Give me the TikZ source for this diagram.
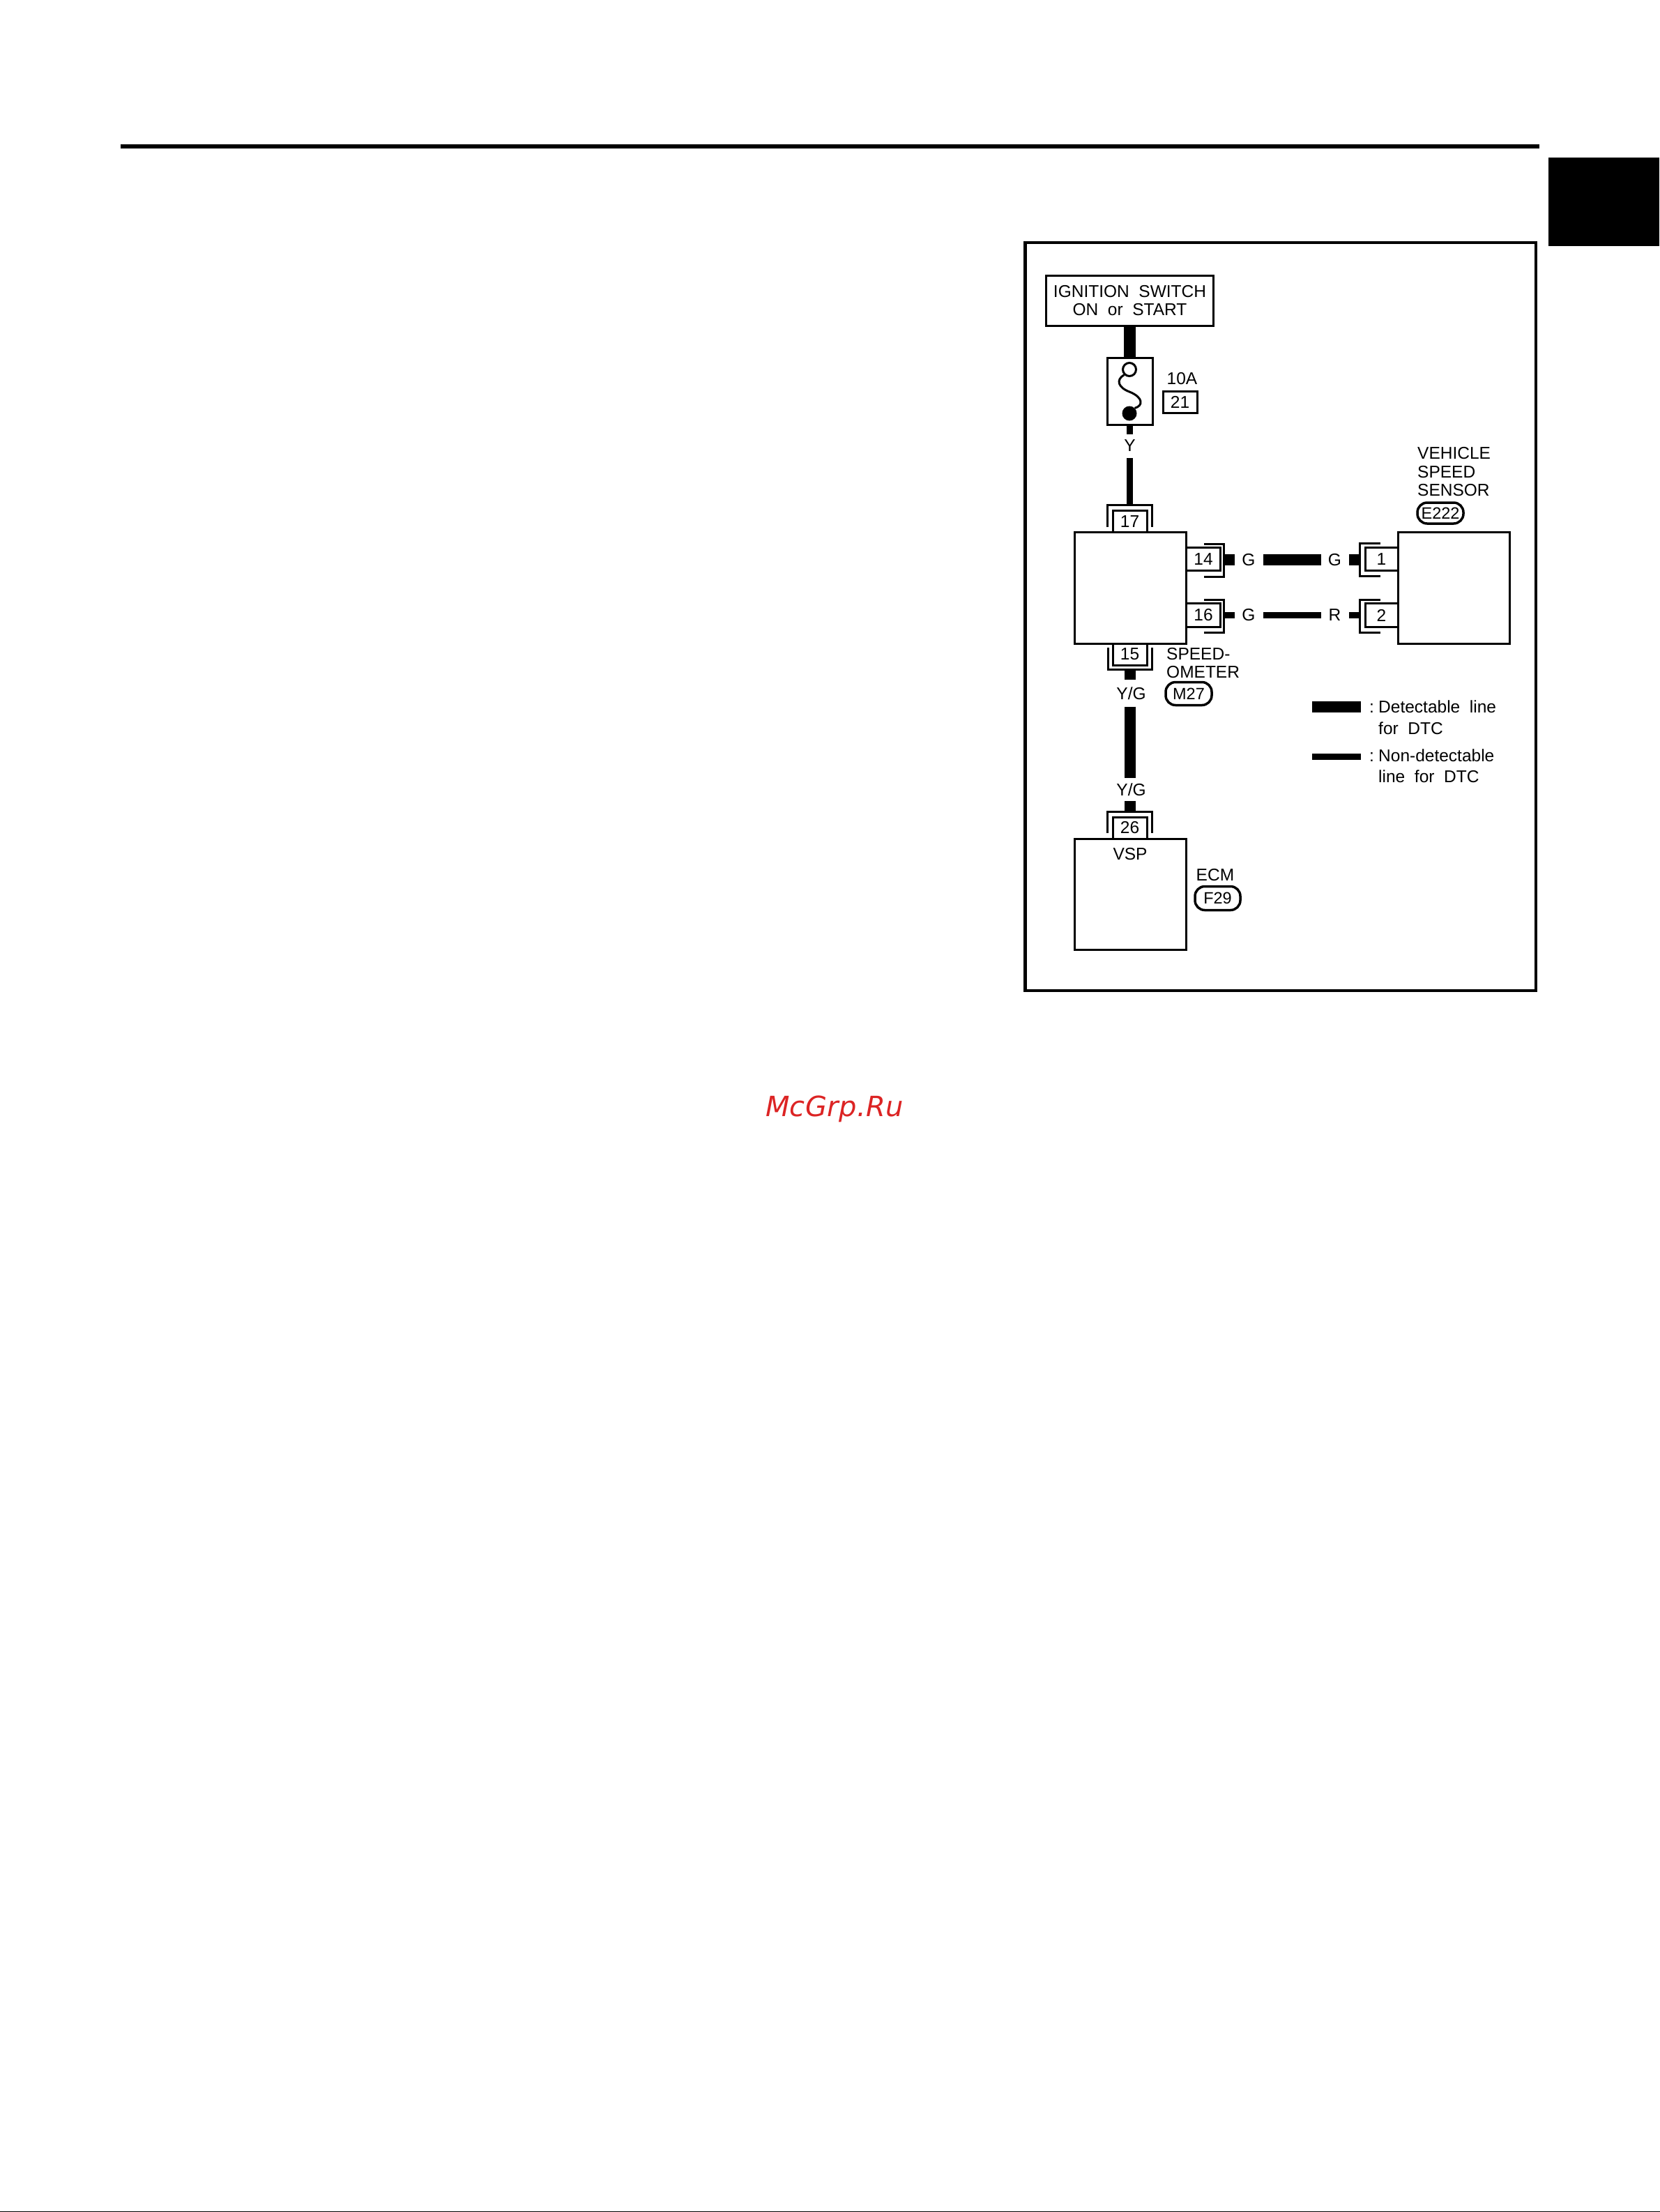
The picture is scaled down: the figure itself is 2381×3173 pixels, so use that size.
\documentclass[tikz,border=0pt]{standalone}
\usepackage{fontspec}
\setmainfont[WordSpace=2]{Liberation Sans}
\newfontfamily\markfont[LetterSpace=1]{DejaVu Sans}
\usepackage{xcolor}
\usetikzlibrary{positioning, calc}
\definecolor{MarkRed}{HTML}{DC2424}

\tikzset{
    devicebox/.style={draw, line width=3pt, inner sep=0pt, align=center},
    pinbox/.style={devicebox, minimum width=49pt, minimum height=31pt},
    hood/.style={line width=3pt},
    tag/.style={devicebox, rounded corners=14pt, line width=3.5pt, font=\fontsize{23.5}{26}\selectfont},
    wiretext/.style={inner sep=0pt, font=\fontsize{24.5}{26}\selectfont},
    sidetext/.style={wiretext, anchor=base west},
    fatwire/.style={line width=16.5pt},
    slimwire/.style={line width=9pt},
}

\begin{document}
\begin{tikzpicture}[x=1pt, y=-1pt, every node/.style={font=\fontsize{24.5}{26}\selectfont}]
    \useasboundingbox[fill=white] (0,0) rectangle (2381,3173);

    % page furniture
    \draw[line width=6pt] (173,210) -- (2208,210);
    \fill (2221,226) rectangle (2380,352.7);
    \draw[line width=1.5pt] (0,3172.3) -- (2381,3172.3);
    \draw[line width=4.5pt] (1470.5,348) rectangle (2203,1421);
    \node[inner sep=0pt, text=MarkRed, font=\markfont\itshape\fontsize{40}{44}\selectfont] (mark) at (1197,1591) {McGrp.Ru};

    % ignition switch and fuse
    \node[devicebox, minimum width=240pt, minimum height=72pt] (ignition) at (1620.5,431) {IGNITION SWITCH\\ON or START};
    \node[devicebox, minimum width=65pt, minimum height=96pt] (fuse) at (1620.5,561) {};
    \draw[fatwire] (ignition.south) -- (fuse.north);
    \node[draw, line width=3pt, fill=white, circle, inner sep=0pt, minimum size=19pt] (fuseopen) at (1620,530) {};
    \node[fill=black, circle, inner sep=0pt, minimum size=21pt] (fuseshut) at (1620,593) {};
    \draw[line width=3pt] (fuseopen.south west) .. controls (1600,545) and (1604,556) .. (1620,562)
        .. controls (1640,570) and (1640,582) .. (fuseshut.north east);
    \node[sidetext] (fusetext) at (1673.5,551.5) {10A};
    \node[devicebox, minimum width=49pt, minimum height=31pt] (fusepin) at (1692.5,577) {21};
    \node[wiretext] (wireY) at (1620.5,639) {Y};
    \coordinate (stubY) at (1620.5,623);
    \coordinate (topY) at (1620.5,657);
    \draw[slimwire] (fuse.south) -- (stubY);

    % speedometer
    \node[devicebox, minimum width=160pt, minimum height=160pt] (speedo) at (1621.5,843) {};
    \node[pinbox] (pin17) at (1620.5,748) {17};
    \node[pinbox] (pin15) at (1620.5,938.5) {15};
    \node[pinbox, minimum width=49pt, minimum height=33.5pt] (pin14) at (1726,802) {14};
    \node[pinbox, minimum width=49pt, minimum height=33.5pt] (pin16) at (1726,882.5) {16};
    \draw[hood] (1588.5,756) -- (1588.5,724.5) -- (1652.5,724.5) -- (1652.5,756);
    \draw[slimwire] (topY) -- (1620.5,723);
    \draw[hood] (1589,929) -- (1589,960) -- (1652.5,960) -- (1652.5,929);
    \draw[hood] (1727,780) -- (1755,780) -- (1755,827.5) -- (1727,827.5);
    \draw[hood] (1727,860.5) -- (1755,860.5) -- (1755,907) -- (1727,907);
    \node[sidetext] (speedotext) at (1673,946) {SPEED-};
    \node[sidetext] (speedotexttwo) at (1673,972) {OMETER};
    \node[tag, minimum width=66pt, minimum height=33pt] (speedotag) at (1705,995) {M27};

    % speed sensor
    \node[devicebox, minimum width=160pt, minimum height=160pt] (sensor) at (2085.5,843) {};
    \node[pinbox, minimum width=47pt, minimum height=33.5pt] (pin1) at (1981.5,802) {1};
    \node[pinbox, minimum width=47pt, minimum height=33.5pt] (pin2) at (1981.5,882.5) {2};
    \draw[hood] (1980,779) -- (1950,779) -- (1950,826.5) -- (1980,826.5);
    \draw[hood] (1980,860) -- (1950,860) -- (1950,907) -- (1980,907);
    \node[sidetext] (sensortext) at (2033,658.5) {VEHICLE};
    \node[sidetext] (sensortexttwo) at (2033,685) {SPEED};
    \node[sidetext] (sensortextthree) at (2033,711) {SENSOR};
    \node[tag, minimum width=66pt, minimum height=30pt] (sensortag) at (2066,736) {E222};

    % wires between speedometer and sensor
    \node[wiretext] (wireGa) at (1791,803) {G};
    \node[wiretext] (wireGb) at (1914.5,803) {G};
    \node[wiretext] (wireGc) at (1791,882) {G};
    \node[wiretext] (wireR) at (1914.5,882) {R};
    \coordinate (outa) at (1770.5,803);
    \coordinate (outb) at (1770.5,882.5);
    \coordinate (ina) at (1935,803);
    \coordinate (inb) at (1935,882.5);
    \coordinate (fatl) at (1812,803);
    \coordinate (fatr) at (1895,803);
    \coordinate (slimr) at (1895,882.5);
    \coordinate (sliml) at (1812,882.5);
    \draw[fatwire] (1756,803) -- (outa);
    \draw[fatwire] (fatl) -- (fatr);
    \draw[fatwire] (ina) -- (1949,803);
    \draw[slimwire] (1756,882.5) -- (outb);
    \draw[slimwire] (sliml) -- (slimr);
    \draw[slimwire] (inb) -- (1949,882.5);

    % ecm
    \node[devicebox, minimum width=160pt, minimum height=159pt] (ecm) at (1621.5,1283) {};
    \node[pinbox] (pin26) at (1620.5,1187.5) {26};
    \draw[hood] (1588.5,1195) -- (1588.5,1164.5) -- (1652.5,1164.5) -- (1652.5,1195);
    \node[wiretext] (wireYGa) at (1622.5,994.5) {Y/G};
    \node[wiretext] (wireYGb) at (1622.5,1133) {Y/G};
    \coordinate (stuba) at (1621,975);
    \coordinate (fata) at (1621,1013.5);
    \coordinate (fatb) at (1621,1116);
    \coordinate (stubb) at (1621,1149);
    \draw[fatwire] (1621,961) -- (stuba);
    \draw[fatwire] (fata) -- (fatb);
    \draw[fatwire] (stubb) -- (1621,1163);
    \node[wiretext] (vsp) at (1621,1225) {VSP};
    \node[sidetext] (ecmtext) at (1715.5,1263) {ECM};
    \node[tag, minimum width=65pt, minimum height=34pt] (ecmtag) at (1746.5,1288.5) {F29};

    % legend
    \coordinate (keya) at (1882,1014);
    \coordinate (keyb) at (1952,1014);
    \coordinate (keyc) at (1882,1085.5);
    \coordinate (keyd) at (1952,1085.5);
    \draw[fatwire] (keya) -- (keyb);
    \draw[slimwire] (keyc) -- (keyd);
    \node[sidetext] (keycolon) at (1964,1022) {:};
    \node[sidetext] (keytext) at (1977,1022) {Detectable line};
    \node[sidetext] (keytexttwo) at (1977,1053) {for DTC};
    \node[sidetext] (keycolontwo) at (1964,1092.5) {:};
    \node[sidetext] (keytextthree) at (1977,1092.5) {Non-detectable};
    \node[sidetext] (keytextfour) at (1977,1122.5) {line for DTC};
\end{tikzpicture}
\end{document}
